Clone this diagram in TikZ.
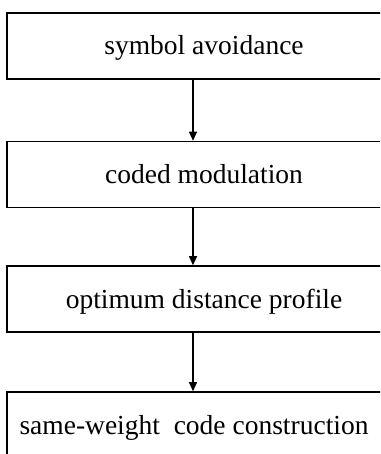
\documentclass[tikz,border=0pt]{standalone}
\usepackage{fontspec}
\setmainfont{Liberation Serif}
\usetikzlibrary{arrows.meta}
\tikzset{
  stagebox/.style={draw=black, line width=1.6pt, minimum width=394pt, minimum height=66pt, inner sep=0pt, text height=22pt, text depth=4pt, font=\fontsize{27.5}{33}\selectfont},
  flowarrow/.style={line width=1.1pt, -{Triangle[width=8pt,length=9pt]}}
}
\begin{document}
\begin{tikzpicture}[x=1pt,y=1pt]
\useasboundingbox (0,0) rectangle (380,-454);
\clip (0,0) rectangle (380,-454);
\node[stagebox] (b1) at (204,-46) {symbol avoidance};
\node[stagebox] (b2) at (204,-174.5) {coded modulation};
\node[stagebox] (b3) at (204,-299) {optimum distance profile};
\node[stagebox] (b4) at (204,-425) {same-weight\ \ code construction\rule{20pt}{0pt}};
\draw[flowarrow] ([xshift=-11pt]b1.south) -- ([xshift=-11pt]b2.north);
\draw[flowarrow] ([xshift=-11pt]b2.south) -- ([xshift=-11pt]b3.north);
\draw[flowarrow] ([xshift=-11pt]b3.south) -- ([xshift=-11pt]b4.north);
\end{tikzpicture}
\end{document}
